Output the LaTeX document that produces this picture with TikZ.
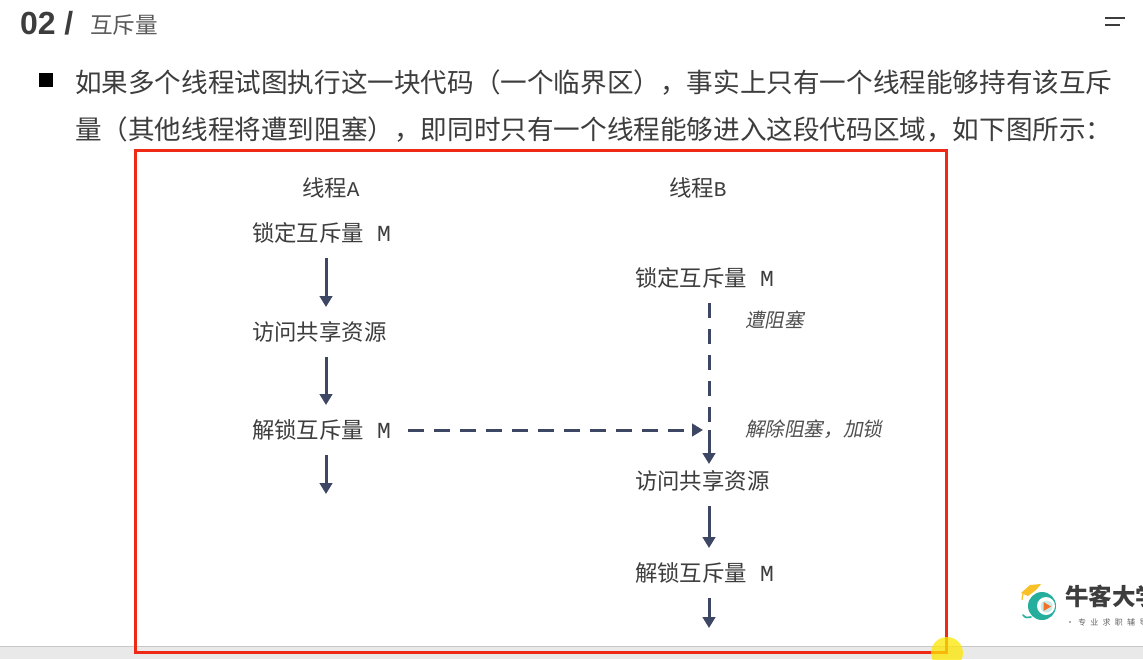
\documentclass[tikz,border=0pt]{standalone}
\usepackage{fontspec}
\setmainfont{Noto Sans CJK SC}
\newfontfamily\cjkslant[FakeSlant=0.2]{Noto Sans CJK SC}
\newfontfamily\latinsans{Liberation Sans}
\newfontfamily\latinmono{Liberation Mono}
\usetikzlibrary{arrows.meta}
\definecolor{ink}{HTML}{3D3D3D}
\definecolor{flow}{HTML}{3D4663}
\definecolor{frame}{HTML}{EE2A17}
\definecolor{barfill}{HTML}{E9E9E9}
\definecolor{logoteal}{HTML}{25AE9C}
\definecolor{logoyellow}{HTML}{F7C127}
\definecolor{logoorange}{HTML}{F0702A}
\newcommand{\fs}[1]{\fontsize{#1}{#1}\selectfont}
\newcommand{\mm}{\hspace{13pt}{\latinmono\fs{23}M}}
\tikzset{
  x=1pt,y=-1pt,
  label/.style={anchor=west,inner sep=0pt,outer sep=0pt,text=ink,text height=14pt,text depth=3pt},
  diag/.style={label,font=\fs{22.4}},
  body/.style={label,font=\fs{26.6},text=ink},
  slant/.style={label,font=\cjkslant\fs{19.6},text=ink!90},
  flowline/.style={draw=flow,line width=3pt},
  flowarrow/.style={flowline,-{Triangle[length=11pt,width=12.5pt]}},
  solidstep/.style={flowarrow,shorten <=13.5pt,shorten >=19.5pt},
  vdash/.style={flowline,dash pattern=on 14.5pt off 11.5pt},
  hdash/.style={flowline,dash pattern=on 16pt off 10pt,-{Triangle[length=11pt,width=12.5pt]}},
}
\begin{document}
\begin{tikzpicture}
\useasboundingbox (0,0) rectangle (1143,659);
\clip (0,0) rectangle (1143,659);
\fill[white] (0,0) rectangle (1143,659);
\fill[barfill] (0,646) rectangle (1143,659);
\draw[black!22,line width=.8pt] (0,646) -- (1143,646);

% header
\node[label,font=\latinsans\bfseries\fs{32},text=ink] (num) at (20,29) {02 /};
\node[label,font=\fs{22.6},text=ink!85] (title) at (90,28) {互斥量};
\draw[ink,line width=1.6pt] (1105,18) -- (1125,18);
\draw[ink,line width=1.6pt] (1105,25) -- (1120,25);

% body
\fill[black] (39,73) rectangle (53,87);
\node[body] (line1) at (75,87) {如果多个线程试图执行这一块代码（一个临界区），事实上只有一个线程能够持有该互斥};
\node[body] (line2) at (75,134) {量（其他线程将遭到阻塞），即同时只有一个线程能够进入这段代码区域，如下图所示：};

% frame
\draw[frame,line width=3pt] (135,150.5) rectangle (946,652);

% diagram labels
\node[label,font=\latinmono\fs{21}] (headA) at (302,191) {{\fs{22.4}\rmfamily 线程}A};
\node[label,font=\latinmono\fs{21}] (headB) at (669,191) {{\fs{22.4}\rmfamily 线程}B};
\node[diag] (lockA) at (252,236) {锁定互斥量\mm};
\node[diag] (visitA) at (252,335) {访问共享资源};
\node[diag] (unlockA) at (252,433) {解锁互斥量\mm};
\node[diag] (lockB) at (635,281) {锁定互斥量\mm};
\node[diag] (visitB) at (635,484) {访问共享资源};
\node[diag] (unlockB) at (635,576) {解锁互斥量\mm};
\node[slant] (blocked) at (745,322) {遭阻塞};
\node[slant] (released) at (745,431) {解除阻塞，加锁};

% connectors
\coordinate (colA) at (326,0);
\coordinate (colB) at (709,0);
\coordinate (endA) at (326,494);
\coordinate (endB) at (709,628);
\coordinate (startA) at (326,455);
\coordinate (startB) at (709,598);
\coordinate (dashEnd) at (709,423);
\coordinate (solidStart) at (709,430);
\coordinate (merge) at (703,430);
\coordinate (dashStart) at (408,430);
\coordinate (vStart) at (709,303);

\draw[solidstep] (lockA.south -| colA) -- (visitA.north -| colA);
\draw[solidstep] (visitA.south -| colA) -- (unlockA.north -| colA);
\draw[flowarrow] (startA) -- (endA);
\draw[vdash] (vStart) -- (dashEnd);
\draw[hdash] (dashStart) -- (merge);
\draw[flowarrow,shorten >=11.5pt] (solidStart) -- (visitB.north -| colB);
\draw[solidstep] (visitB.south -| colB) -- (unlockB.north -| colB);
\draw[flowarrow] (startB) -- (endB);

% logo
\fill[logoteal] (1042,606) circle (14);
\fill[white] (1046,606) circle (9);
\fill[logoteal!25] (1046.5,606.5) circle (6);
\fill[logoorange] (1043.5,602) -- (1051,606.5) -- (1043.5,611) -- cycle;
\draw[logoteal,line width=1.6pt,line cap=round] (1023,615) .. controls (1025,618) and (1028,618) .. (1031,617);
\fill[logoyellow] (1021,593) -- (1030,585) -- (1041,584) -- (1036,590) -- (1028,596) -- cycle;
\draw[logoyellow,line width=1.2pt] (1023,594) -- (1022,600);
\node[label,font=\bfseries\fs{23.5},text=ink] (brand) at (1065,600) {牛客大学};
\node[label,font=\fs{8},text=ink!80] (slogan) at (1066,620) {·\hspace{4pt}专\hspace{4.3pt}业\hspace{4.3pt}求\hspace{4.3pt}职\hspace{4.3pt}辅\hspace{4.3pt}导};

% cursor highlight
\fill[yellow!90!orange,opacity=.75] (947,653) circle (16);
\end{tikzpicture}
\end{document}
